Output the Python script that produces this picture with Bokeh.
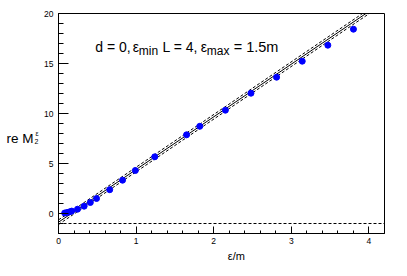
from bokeh.plotting import figure
from bokeh.models import Label, Span, FixedTicker, LinearAxis, Range1d
from bokeh.embed import file_html
from bokeh.resources import INLINE

# ---- data ----
eps = [0.08, 0.11, 0.14, 0.17, 0.245, 0.33, 0.41, 0.49, 0.66, 0.825, 0.99,
       1.24, 1.65, 1.82, 2.15, 2.48, 2.81, 3.14, 3.47, 3.80]
re_m2 = [0.05, 0.10, 0.16, 0.24, 0.43, 0.73, 1.10, 1.50, 2.38, 3.33, 4.30,
         5.67, 7.87, 8.72, 10.33, 12.03, 13.63, 15.23, 16.83, 18.43]

fit_x = [0.0, 4.2]
fit_y = [-0.87, 21.26]
band_lo = [-1.10, 21.03]
band_hi = [-0.64, 21.49]
threshold = -1.0

x_major = [0, 1, 2, 3, 4]
x_minor = [i * 0.2 for i in range(0, 22)]
y_major = [0, 5, 10, 15, 20]
y_minor = list(range(-2, 21))

FONT = "Liberation Sans"
W, H = 407, 276
FL, FR, FT, FB = 58.3, 384, 12.7, 233  # frame edges in page pixels

p = figure(width=W, height=H, x_range=(0, 4.2), y_range=(-2, 20),
           output_backend="svg", toolbar_location=None,
           min_border_left=58, min_border_right=23,
           min_border_top=13, min_border_bottom=43)
p.grid.visible = False
p.outline_line_color = "black"
p.outline_line_width = 1
p.background_fill_color = "white"
p.border_fill_color = "white"

for ax in (p.xaxis[0], p.yaxis[0]):
    ax.major_tick_out = 0
    ax.minor_tick_out = 0
    ax.axis_line_color = "black"
    ax.major_tick_line_color = "black"
    ax.minor_tick_line_color = "black"
    ax.major_label_text_font = FONT
    ax.major_label_text_font_size = "8.5px"
    ax.major_label_text_color = "black"

p.xaxis.ticker = FixedTicker(ticks=x_major, minor_ticks=x_minor)
p.xaxis.major_tick_in = 7
p.xaxis.minor_tick_in = 3
p.xaxis.major_label_standoff = 4

p.yaxis.ticker = FixedTicker(ticks=y_major, minor_ticks=y_minor)
p.yaxis.major_tick_in = 10
p.yaxis.minor_tick_in = 5
p.yaxis.major_label_standoff = 5

# pixel-space helper ranges used only to place the axis titles
p.extra_x_ranges = {"pxx": Range1d(start=FL, end=FR)}
p.extra_y_ranges = {"pxy": Range1d(start=FB, end=FT)}


def title_axis(place, range_name, ticks, texts, size, standoff):
    kw = {"x_range_name": range_name} if place == "below" else {"y_range_name": range_name}
    ax = LinearAxis(ticker=FixedTicker(ticks=ticks, minor_ticks=[]), **kw)
    ax.major_label_overrides = dict(zip(ticks, texts))
    ax.axis_line_color = None
    ax.major_tick_line_color = None
    ax.minor_tick_line_color = None
    ax.major_tick_in = 0
    ax.major_tick_out = 0
    ax.minor_tick_in = 0
    ax.minor_tick_out = 0
    ax.major_label_standoff = standoff
    ax.major_label_text_font = FONT
    ax.major_label_text_font_size = size
    ax.major_label_text_color = "black"
    p.add_layout(ax, place)
    return ax


# x title: eps/m
title_axis("below", "pxx", [236], ["\u03b5/m"], "11px", 3)
# y title: sub/superscripts (inner), then "re M" (outer)
title_axis("left", "pxy", [133, 141], ["\u03b5", "2"], "7px", 3)
title_axis("left", "pxy", [138], ["re M"], "13.5px", -2)

# threshold line
p.add_layout(Span(location=threshold, dimension="width", line_color="black",
                  line_width=1, line_dash="3 2"))

# fit line and band
p.line(fit_x, fit_y, line_color="black", line_width=1)
p.line(fit_x, band_lo, line_color="black", line_width=1, line_dash="3 2")
p.line(fit_x, band_hi, line_color="black", line_width=1, line_dash="3 2")

# data points
p.scatter(eps, re_m2, size=6, fill_color="#0000ff", line_color="#0000ff")


def lab(text, px, py, size):
    p.add_layout(Label(x=(px - FL) / (FR - FL) * 4.2,
                       y=20 - (py - FT) * 22 / (FB - FT),
                       text=text, text_font=FONT,
                       text_font_size=size, text_color="black",
                       text_align="left", text_baseline="alphabetic"))


# annotation text inside the frame
lab("d = 0,", 95, 46.3, "14px")
lab("\u03b5", 132.5, 46.3, "14px")
lab("min", 138.5, 50, "12px")
lab("L = 4,", 162.3, 46.3, "14px")
lab("\u03b5", 200.5, 46.3, "14px")
lab("max", 206.5, 50, "12px")
lab("= 1.5m", 233.3, 46.3, "14.5px")

open("out.html", "w").write(file_html(p, INLINE))
